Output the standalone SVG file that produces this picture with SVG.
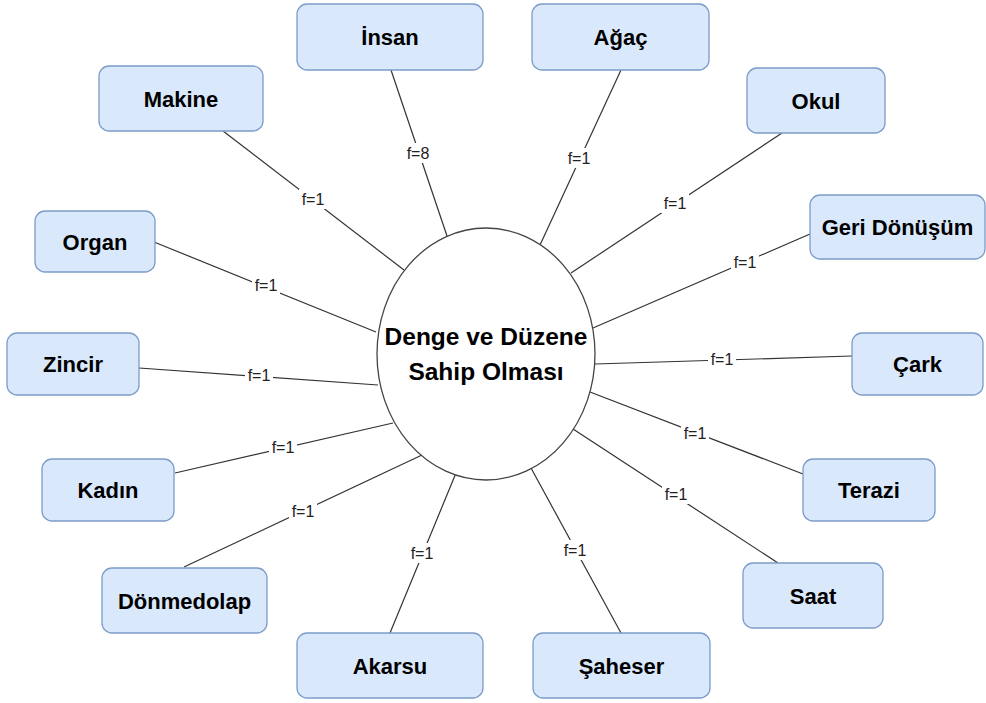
<svg xmlns="http://www.w3.org/2000/svg" width="986" height="703" viewBox="0 0 986 703">
  <style>
    .node rect { fill: #dae8fc; stroke: #7c9cc9; stroke-width: 1.3; }
    .node text { font-family: "Liberation Sans", Arial, sans-serif; font-weight: bold; font-size: 22px; fill: #000; text-anchor: middle; }
    .edges line { stroke: #333; stroke-width: 1.2; }
    .lbl rect { fill: #fff; }
    .lbl text { font-family: "Liberation Sans", Arial, sans-serif; font-size: 16px; fill: #222; text-anchor: middle; }
    .hub ellipse { fill: #fff; stroke: #444; stroke-width: 1.3; }
    .hub text { font-family: "Liberation Sans", Arial, sans-serif; font-weight: bold; font-size: 24.5px; fill: #000; text-anchor: middle; }
  </style>

  <!-- spokes from the central concept -->
  <g id="edges" class="edges">
    <line x1="391" y1="70" x2="447" y2="236"/>
    <line x1="621" y1="70" x2="540" y2="245"/>
    <line x1="223" y1="131" x2="404" y2="270"/>
    <line x1="782" y1="133" x2="571" y2="273"/>
    <line x1="810" y1="234" x2="593" y2="328"/>
    <line x1="154" y1="242" x2="376" y2="332"/>
    <line x1="139" y1="368" x2="378" y2="385"/>
    <line x1="852" y1="356" x2="595" y2="364"/>
    <line x1="175" y1="473" x2="393" y2="423"/>
    <line x1="803" y1="474" x2="590" y2="392"/>
    <line x1="184" y1="567" x2="422" y2="455"/>
    <line x1="390" y1="633" x2="456" y2="473"/>
    <line x1="621" y1="633" x2="531" y2="468"/>
    <line x1="778" y1="563" x2="573" y2="429"/>
  </g>

  <!-- frequency labels on the spokes -->
  <g id="edge-labels" class="lbl">
    <g><rect x="404" y="143" width="28" height="20"/><text x="418" y="159">f=8</text></g>
    <g><rect x="565" y="148" width="28" height="20"/><text x="579" y="164">f=1</text></g>
    <g><rect x="299" y="189" width="28" height="20"/><text x="313" y="205">f=1</text></g>
    <g><rect x="661" y="193" width="28" height="20"/><text x="675" y="209">f=1</text></g>
    <g><rect x="731" y="252" width="28" height="20"/><text x="745" y="268">f=1</text></g>
    <g><rect x="252" y="275" width="28" height="20"/><text x="266" y="291">f=1</text></g>
    <g><rect x="245" y="365" width="28" height="20"/><text x="259" y="381">f=1</text></g>
    <g><rect x="708" y="349" width="28" height="20"/><text x="722" y="365">f=1</text></g>
    <g><rect x="269" y="437" width="28" height="20"/><text x="283" y="453">f=1</text></g>
    <g><rect x="681" y="423" width="28" height="20"/><text x="695" y="439">f=1</text></g>
    <g><rect x="289" y="501" width="28" height="20"/><text x="303" y="517">f=1</text></g>
    <g><rect x="408" y="543" width="28" height="20"/><text x="422" y="559">f=1</text></g>
    <g><rect x="561" y="540" width="28" height="20"/><text x="575" y="556">f=1</text></g>
    <g><rect x="662" y="484" width="28" height="20"/><text x="676" y="500">f=1</text></g>
  </g>

  <!-- central concept -->
  <g id="hub" class="hub">
    <ellipse cx="486" cy="354" rx="109" ry="126"/>
    <text x="486" y="345">Denge ve Düzene</text>
    <text x="486" y="380">Sahip Olması</text>
  </g>

  <g id="insan" class="node"><rect x="297" y="4" width="186" height="66" rx="10"/><text x="390" y="45">İnsan</text></g>
  <g id="agac" class="node"><rect x="532" y="4" width="177" height="66" rx="10"/><text x="620.5" y="45">Ağaç</text></g>
  <g id="makine" class="node"><rect x="99" y="66" width="164" height="65" rx="10"/><text x="181" y="106.5">Makine</text></g>
  <g id="okul" class="node"><rect x="747" y="68" width="138" height="65" rx="10"/><text x="816" y="108.5">Okul</text></g>
  <g id="geri-donusum" class="node"><rect x="810" y="195" width="175" height="64" rx="10"/><text x="897.5" y="235">Geri Dönüşüm</text></g>
  <g id="organ" class="node"><rect x="35" y="211" width="120" height="61" rx="10"/><text x="95" y="249.5">Organ</text></g>
  <g id="zincir" class="node"><rect x="7" y="333" width="132" height="62" rx="10"/><text x="73" y="372">Zincir</text></g>
  <g id="cark" class="node"><rect x="852" y="333" width="131" height="62" rx="10"/><text x="917.5" y="372">Çark</text></g>
  <g id="kadin" class="node"><rect x="42" y="459" width="132" height="62" rx="10"/><text x="108" y="498">Kadın</text></g>
  <g id="terazi" class="node"><rect x="803" y="459" width="132" height="62" rx="10"/><text x="869" y="498">Terazi</text></g>
  <g id="donmedolap" class="node"><rect x="102" y="568" width="165" height="65" rx="10"/><text x="184.5" y="608.5">Dönmedolap</text></g>
  <g id="akarsu" class="node"><rect x="297" y="633" width="186" height="65" rx="10"/><text x="390" y="673.5">Akarsu</text></g>
  <g id="saheser" class="node"><rect x="533" y="633" width="177" height="65" rx="10"/><text x="621.5" y="673.5">Şaheser</text></g>
  <g id="saat" class="node"><rect x="743" y="563" width="140" height="65" rx="10"/><text x="813" y="603.5">Saat</text></g>
</svg>
